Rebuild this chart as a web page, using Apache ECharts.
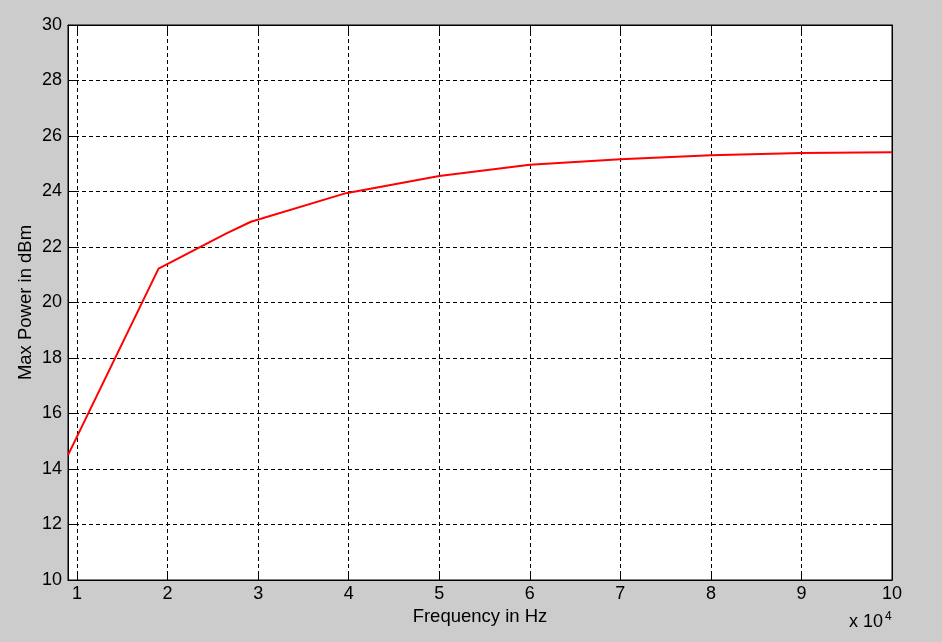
<!DOCTYPE html>
<html>
<head>
<meta charset="utf-8">
<script src="https://cdn.jsdelivr.net/npm/echarts@6/dist/echarts.min.js"></script>
<style>
  html, body { margin: 0; padding: 0; background: #cccccc; }
  #chart { width: 942px; height: 642px; }
</style>
</head>
<body>
<div id="chart"></div>
<script>
// Data (frequency in Hz, max power in dBm)
const freqHz = [9000, 19000, 26500, 29200, 39700, 50000, 60000, 70000, 80000, 90000, 100000];
const powerDbm = [14.5, 21.22, 22.49, 22.91, 23.94, 24.56, 24.96, 25.16, 25.31, 25.39, 25.41];
const xTickValues = [10000, 20000, 30000, 40000, 50000, 60000, 70000, 80000, 90000, 100000];
const xAxisTitle = 'Frequency in Hz';
const yAxisTitle = 'Max Power in dBm';

const FONT = '"Liberation Sans", Arial, sans-serif';
const chart = echarts.init(document.getElementById('chart'), null, { renderer: 'canvas' });

const seriesData = freqHz.map((f, i) => [f, powerDbm[i]]);

const option = {
  backgroundColor: '#cccccc',
  animation: false,
  grid: {
    left: 68, right: 50, top: 25, bottom: 62,
    show: true, backgroundColor: '#ffffff', borderColor: '#000000', borderWidth: 1
  },
  xAxis: [
    {
      type: 'value', min: 9000, max: 100000, position: 'bottom',
      axisLine: { show: true, onZero: false, lineStyle: { color: '#000', width: 1 } },
      axisTick: { show: true, inside: true, length: 8, customValues: xTickValues, lineStyle: { color: '#000' } },
      axisLabel: {
        customValues: xTickValues, formatter: v => String(Math.round(v / 1e4)),
        color: '#000', fontSize: 18, fontFamily: FONT, margin: 5
      },
      splitLine: { show: true, lineStyle: { color: '#000', width: 1, type: [4, 3] } },
      name: xAxisTitle, nameLocation: 'middle', nameGap: 25,
      nameTextStyle: { color: '#000', fontSize: 18.5, fontFamily: FONT }
    },
    {
      type: 'value', min: 9000, max: 100000, position: 'top',
      axisLine: { show: true, onZero: false, lineStyle: { color: '#000', width: 1 } },
      axisTick: { show: true, inside: true, length: 8, customValues: xTickValues, lineStyle: { color: '#000' } },
      axisLabel: { show: false },
      splitLine: { show: false }
    }
  ],
  yAxis: [
    {
      type: 'value', min: 10, max: 30, interval: 2, position: 'left',
      axisLine: { show: true, onZero: false, lineStyle: { color: '#000', width: 1 } },
      axisTick: { show: true, inside: true, length: 8, lineStyle: { color: '#000' } },
      axisLabel: { color: '#000', fontSize: 18, fontFamily: FONT, margin: 6 },
      splitLine: { show: true, lineStyle: { color: '#000', width: 1, type: [4, 3] } },
      name: yAxisTitle, nameLocation: 'middle', nameGap: 33, nameMoveOverlap: false,
      nameTextStyle: { color: '#000', fontSize: 18.5, fontFamily: FONT }
    },
    {
      type: 'value', min: 10, max: 30, interval: 2, position: 'right',
      axisLine: { show: true, onZero: false, lineStyle: { color: '#000', width: 1 } },
      axisTick: { show: true, inside: true, length: 8, lineStyle: { color: '#000' } },
      axisLabel: { show: false },
      splitLine: { show: false }
    }
  ],
  series: [
    {
      type: 'line', xAxisIndex: 0, yAxisIndex: 0,
      data: seriesData, showSymbol: false, symbol: 'none',
      lineStyle: { color: '#ff0000', width: 2 },
      itemStyle: { color: '#ff0000' }
    }
  ],
  graphic: [
    { type: 'text', x: 849, y: 613, style: { text: 'x 10', font: '18px ' + FONT, fill: '#000', verticalAlign: 'top' } },
    { type: 'text', x: 885, y: 611, style: { text: '4', font: '12px ' + FONT, fill: '#000', verticalAlign: 'top' } }
  ]
};

chart.setOption(option);
</script>
</body>
</html>
